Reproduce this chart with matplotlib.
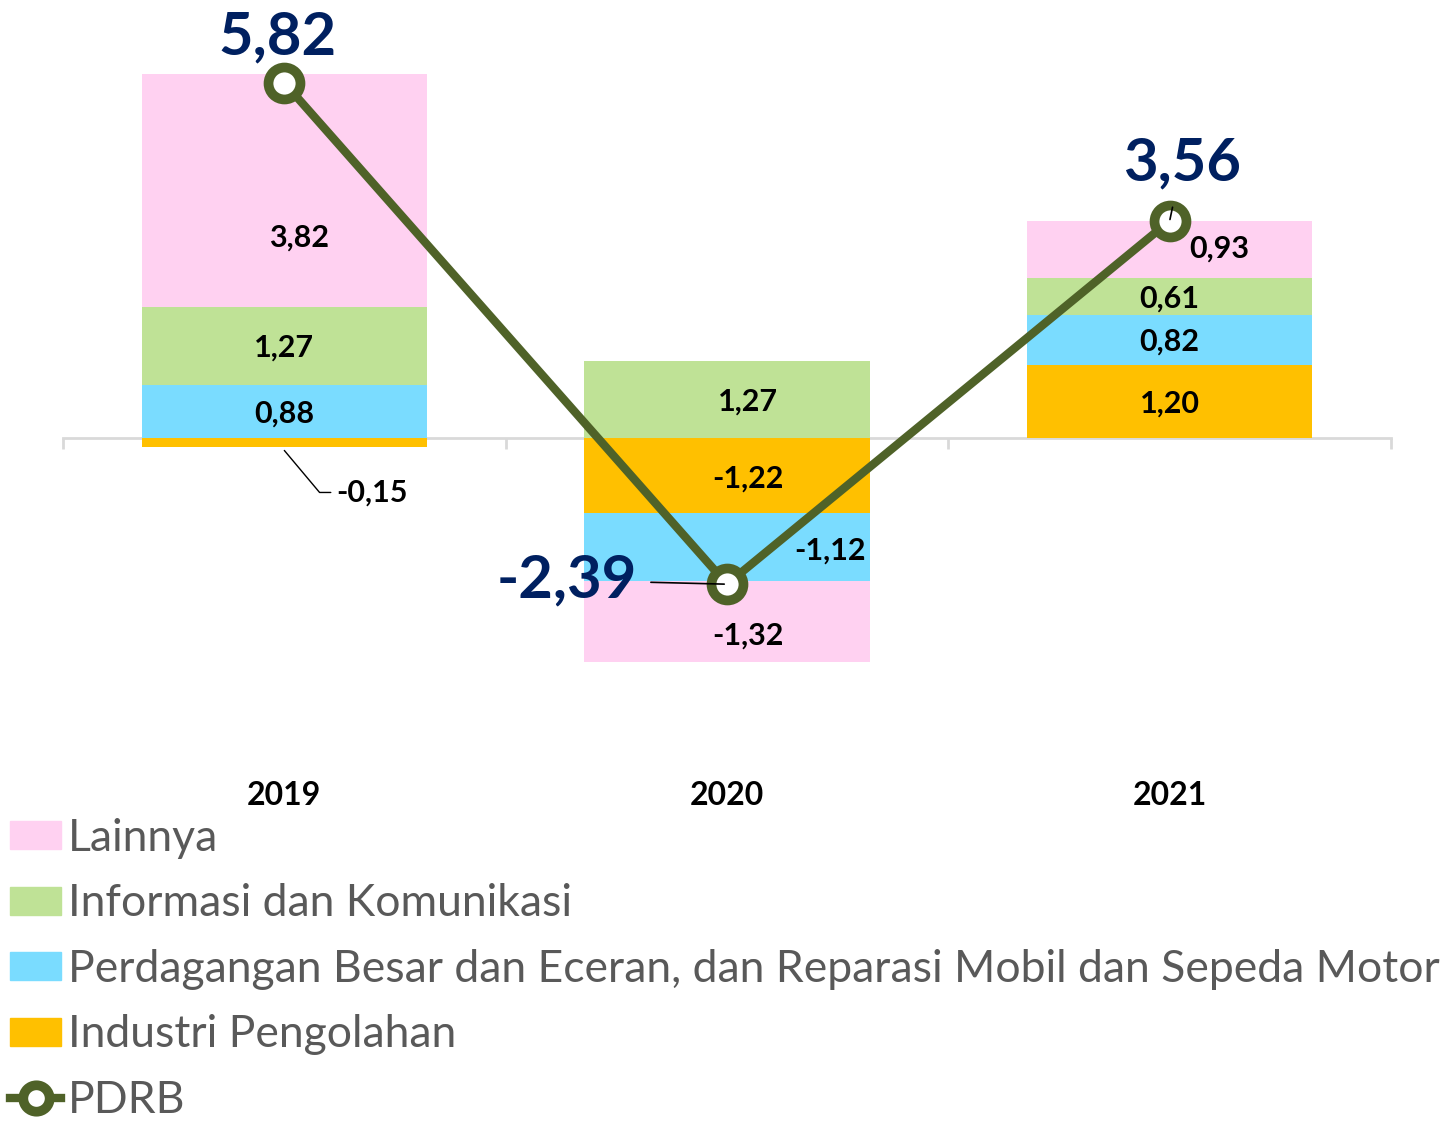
import matplotlib.pyplot as plt
import numpy as np
from matplotlib.lines import Line2D
from matplotlib.patches import Patch

plt.rcParams['font.family'] = ['Lato', 'DejaVu Sans']

years = ['2019', '2020', '2021']
sectors = ['Industri Pengolahan',
           'Perdagangan Besar dan Eceran, dan Reparasi Mobil dan Sepeda Motor',
           'Informasi dan Komunikasi',
           'Lainnya']
industri = [-0.15, -1.22, 1.20]
perdagangan = [0.88, -1.12, 0.82]
informasi = [1.27, 1.27, 0.61]
lainnya = [3.82, -1.32, 0.93]
pdrb = [5.82, -2.39, 3.56]

COLORS = ['#FFC000', '#7ADCFF', '#BFE296', '#FFD1F1']
LINE_COLOR = '#4F6228'
NAVY = '#002060'

# label nudges in pixels (dx right, dy down), keyed by (sector index, year index)
px = 0.72
nudge = {(3, 0): (15, 47), (2, 1): (21, 2), (0, 1): (21, 3),
         (1, 1): (103, 4), (3, 1): (21, 14), (3, 2): (50, -1)}

fig = plt.figure(figsize=(14.5, 11.28), dpi=100)
ax = fig.add_axes([63 / 1450, 1 - 768 / 1128, 1328 / 1450, 745 / 1128])

x = np.arange(len(years))
series = [industri, perdagangan, informasi, lainnya]
pos_base = np.zeros(len(years))
neg_base = np.zeros(len(years))
for si, (name, vals, col) in enumerate(zip(sectors, series, COLORS)):
    vals = np.array(vals)
    bottom = np.where(vals >= 0, pos_base, neg_base)
    ax.bar(x, vals, 0.644, bottom=bottom, color=col, zorder=2, label=name)
    for yi in range(len(years)):
        if si == 0 and yi == 0:
            continue
        dx, dy = nudge.get((si, yi), (0, 2))
        ax.annotate('{:.2f}'.format(vals[yi]).replace('.', ','),
                    (x[yi], bottom[yi] + vals[yi] / 2), xytext=(dx * px, -dy * px),
                    textcoords='offset points', ha='center', va='center',
                    fontsize=22, fontweight='bold', color='black', zorder=5)
    pos_base = pos_base + np.where(vals >= 0, vals, 0)
    neg_base = neg_base + np.where(vals < 0, vals, 0)

# small negative 2019 industri label with leader line
ax.annotate('{:.2f}'.format(industri[0]).replace('.', ','),
            (x[0], industri[0] - 0.05), xytext=(52 * px, -42 * px),
            textcoords='offset points', ha='left', va='center',
            fontsize=22, fontweight='bold', color='black', zorder=5,
            arrowprops=dict(arrowstyle='-', color='black', lw=1,
                            connectionstyle='angle,angleA=0,angleB=-50,rad=0',
                            shrinkA=2, shrinkB=0))

ax.plot(x, pdrb, color=LINE_COLOR, lw=6, marker='o', ms=23,
        mfc='white', mec=LINE_COLOR, mew=7, zorder=4, solid_capstyle='round')

pdrb_txt = [f'{v:.2f}'.replace('.', ',') for v in pdrb]
ax.annotate(pdrb_txt[0], (x[0], pdrb[0]), xytext=(-7 * px, 45 * px),
            textcoords='offset points', ha='center', va='center',
            fontsize=43, fontweight='bold', color=NAVY, zorder=6)
ax.annotate(pdrb_txt[1], (x[1], pdrb[1]), xytext=(-90 * px, 4 * px),
            textcoords='offset points', ha='right', va='center',
            fontsize=43, fontweight='bold', color=NAVY, zorder=6,
            arrowprops=dict(arrowstyle='-', color='black', lw=1.2,
                            shrinkA=8, shrinkB=2))
ax.annotate(pdrb_txt[2], (x[2], pdrb[2]), xytext=(12 * px, 57 * px),
            textcoords='offset points', ha='center', va='center',
            fontsize=43, fontweight='bold', color=NAVY, zorder=6,
            arrowprops=dict(arrowstyle='-', color='black', lw=1.2,
                            shrinkA=10, shrinkB=1))

ax.set_xlim(-0.5, 2.5)
ax.set_ylim(-5.4, 6.8)
for s in ['top', 'right', 'left']:
    ax.spines[s].set_visible(False)
ax.spines['bottom'].set_position(('data', 0))
ax.spines['bottom'].set_color('#D9D9D9')
ax.spines['bottom'].set_linewidth(2)
ax.spines['bottom'].set_zorder(1)
ax.set_yticks([])
ax.set_xticks([-0.5, 0.5, 1.5, 2.5])
ax.set_xticklabels([])
ax.tick_params(axis='x', direction='out', length=8, width=2, color='#D9D9D9')
for xi, yr in zip(x, years):
    ax.text(xi, -0.037, yr, transform=ax.get_xaxis_transform(), ha='center',
            va='center', fontsize=23, fontweight='bold')

handles = [Patch(color=COLORS[3]), Patch(color=COLORS[2]), Patch(color=COLORS[1]),
           Patch(color=COLORS[0]),
           Line2D([], [], color=LINE_COLOR, lw=6, marker='o', ms=19,
                  mfc='white', mec=LINE_COLOR, mew=7)]
labels = ['Lainnya', sectors[2], sectors[1], sectors[0], 'PDRB']
fig.legend(handles, labels, loc='upper left', bbox_to_anchor=(10 / 1450, 1 - 818 / 1128),
           frameon=False, fontsize=32, labelcolor='#595959', handlelength=1.15,
           handleheight=0.6, handletextpad=0.15, labelspacing=0.55,
           borderpad=0, borderaxespad=0)

fig.savefig('out.png', dpi=100)
